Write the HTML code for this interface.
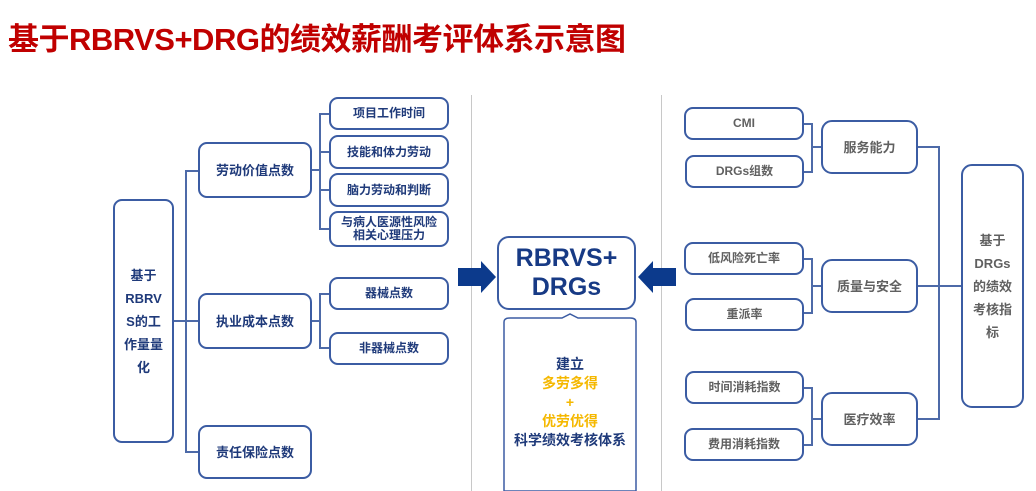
<!DOCTYPE html>
<html><head><meta charset="utf-8"><style>
body{margin:0;width:1036px;height:491px;background:#fff;position:relative;overflow:hidden;font-family:"Liberation Sans","Noto Sans CJK SC",sans-serif}
.t{position:absolute;left:8px;top:14px;font-size:31px;font-weight:bold;color:#c00000;letter-spacing:-0.5px}
.b{position:absolute;box-sizing:border-box;border:2px solid #3b5ca3;border-radius:9px;display:flex;align-items:center;justify-content:center;text-align:center;color:#1f3a7a;font-weight:bold;font-size:12px;line-height:15px;background:#fff}
.g{color:#606060}
.l{position:absolute;background:#4d6aa8}
.v{position:absolute;background:#c8c8c8;width:1px}
</style></head><body>
<div class="t">基于RBRVS+DRG的绩效薪酬考评体系示意图</div>
<div class="v" style="left:471px;top:95px;height:396px"></div>
<div class="v" style="left:661px;top:95px;height:396px"></div>

<div class="l" style="left:173px;top:320px;width:12px;height:2px"></div>
<div class="l" style="left:185px;top:170px;width:2px;height:282px"></div>
<div class="l" style="left:185px;top:170px;width:13px;height:2px"></div>
<div class="l" style="left:185px;top:320px;width:13px;height:2px"></div>
<div class="l" style="left:185px;top:451px;width:13px;height:2px"></div>
<div class="l" style="left:311px;top:169px;width:9px;height:2px"></div>
<div class="l" style="left:319px;top:113px;width:2px;height:116px"></div>
<div class="l" style="left:319px;top:113px;width:10px;height:2px"></div>
<div class="l" style="left:319px;top:151px;width:10px;height:2px"></div>
<div class="l" style="left:319px;top:189px;width:10px;height:2px"></div>
<div class="l" style="left:319px;top:228px;width:10px;height:2px"></div>
<div class="l" style="left:311px;top:320px;width:9px;height:2px"></div>
<div class="l" style="left:319px;top:293px;width:2px;height:56px"></div>
<div class="l" style="left:319px;top:293px;width:10px;height:2px"></div>
<div class="l" style="left:319px;top:347px;width:10px;height:2px"></div>

<div class="b" style="left:113px;top:199px;width:61px;height:244px;font-size:13px;line-height:23px">基于<br>RBRV<br>S的工<br>作量量<br>化</div>
<div class="b" style="left:198px;top:142px;width:114px;height:56px;font-size:13px">劳动价值点数</div>
<div class="b" style="left:198px;top:293px;width:114px;height:56px;font-size:13px">执业成本点数</div>
<div class="b" style="left:198px;top:425px;width:114px;height:54px;font-size:13px">责任保险点数</div>
<div class="b" style="left:329px;top:97px;width:120px;height:33px">项目工作时间</div>
<div class="b" style="left:329px;top:135px;width:120px;height:34px">技能和体力劳动</div>
<div class="b" style="left:329px;top:173px;width:120px;height:34px">脑力劳动和判断</div>
<div class="b" style="left:329px;top:211px;width:120px;height:36px;line-height:13px">与病人医源性风险<br>相关心理压力</div>
<div class="b" style="left:329px;top:277px;width:120px;height:33px">器械点数</div>
<div class="b" style="left:329px;top:332px;width:120px;height:33px">非器械点数</div>

<svg style="position:absolute;left:0;top:0" width="1036" height="491">
<polygon points="458,268 481,268 481,261 496,277 481,293 481,286 458,286" fill="#0c3a8c"/>
<polygon points="676,268 653,268 653,261 638,277 653,293 653,286 676,286" fill="#0c3a8c"/>
<path d="M504,322 Q504,318 510,318 L562,318 L570,314 L578,318 L630,318 Q636,318 636,322 L636,491 L504,491 Z" fill="#fff" stroke="#3b5ca3" stroke-width="1.5"/>
</svg>
<div class="b" style="left:497px;top:236px;width:139px;height:74px;font-size:25px;line-height:29px;color:#173a85;border-radius:12px;border-width:2.5px">RBRVS+<br>DRGs</div>
<div style="position:absolute;left:504px;top:355px;width:132px;text-align:center;font-weight:bold;font-size:14px;line-height:19px;color:#1f3a7a">建立<br><span style="color:#f5b800">多劳多得<br>+<br>优劳优得</span><br>科学绩效考核体系</div>

<div class="l" style="left:803px;top:123px;width:9px;height:2px"></div>
<div class="l" style="left:803px;top:171px;width:9px;height:2px"></div>
<div class="l" style="left:811px;top:123px;width:2px;height:50px"></div>
<div class="l" style="left:811px;top:146px;width:10px;height:2px"></div>
<div class="l" style="left:803px;top:258px;width:9px;height:2px"></div>
<div class="l" style="left:803px;top:312px;width:9px;height:2px"></div>
<div class="l" style="left:811px;top:258px;width:2px;height:56px"></div>
<div class="l" style="left:811px;top:285px;width:10px;height:2px"></div>
<div class="l" style="left:803px;top:387px;width:9px;height:2px"></div>
<div class="l" style="left:803px;top:444px;width:9px;height:2px"></div>
<div class="l" style="left:811px;top:387px;width:2px;height:59px"></div>
<div class="l" style="left:811px;top:418px;width:10px;height:2px"></div>
<div class="l" style="left:917px;top:146px;width:23px;height:2px"></div>
<div class="l" style="left:917px;top:285px;width:44px;height:2px"></div>
<div class="l" style="left:917px;top:418px;width:23px;height:2px"></div>
<div class="l" style="left:938px;top:146px;width:2px;height:274px"></div>

<div class="b g" style="left:684px;top:107px;width:120px;height:33px">CMI</div>
<div class="b g" style="left:685px;top:155px;width:119px;height:33px">DRGs组数</div>
<div class="b g" style="left:684px;top:242px;width:120px;height:33px">低风险死亡率</div>
<div class="b g" style="left:685px;top:298px;width:119px;height:33px">重派率</div>
<div class="b g" style="left:685px;top:371px;width:119px;height:33px">时间消耗指数</div>
<div class="b g" style="left:684px;top:428px;width:120px;height:33px">费用消耗指数</div>
<div class="b g" style="left:821px;top:120px;width:97px;height:54px;font-size:13px;border-radius:11px">服务能力</div>
<div class="b g" style="left:821px;top:259px;width:97px;height:54px;font-size:13px;border-radius:11px">质量与安全</div>
<div class="b g" style="left:821px;top:392px;width:97px;height:54px;font-size:13px;border-radius:11px">医疗效率</div>
<div class="b g" style="left:961px;top:164px;width:63px;height:244px;font-size:13px;line-height:23px;border-radius:11px">基于<br>DRGs<br>的绩效<br>考核指<br>标</div>
</body></html>
